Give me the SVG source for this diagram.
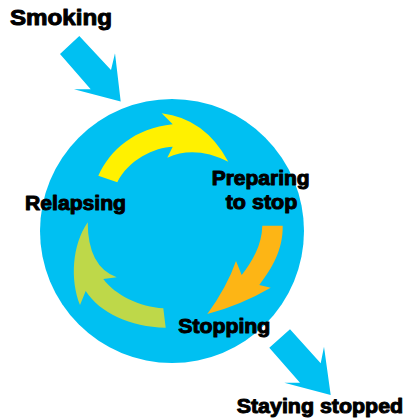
<svg xmlns="http://www.w3.org/2000/svg" width="405" height="419" viewBox="0 0 405 419">
<style>
.lbl{font-family:"Liberation Sans",Arial,sans-serif;font-weight:bold;fill:#000;stroke:#000;stroke-width:1;stroke-linejoin:round;font-size:20px}
.big{fill:#00C0F2}
</style>
<rect width="405" height="419" fill="#fff"/>
<g id="cycle">
<circle cx="172" cy="231" r="132" class="big"/>
</g>
<g id="connectors">
<path class="big" d="M60,54 L79.3,36 L111,70 L115,53.3 L120.7,101.5 L74,89.3 L90.7,89.3 Z"/>
<path class="big" d="M290,329.3 L269.3,347.7 L300,382.7 L284.3,382.7 L330.7,395 L324,346.7 L320.7,363.3 Z"/>
<path fill="#FFF100" d="M98.3,175.7 C110,150 135,128 172.7,124.3 L161.7,113.3 Q205,118.5 228.3,161.7 Q195,145 167.3,157.7 L172.7,146.7 C155,147 128,160 117.3,182.3 Z"/>
<path fill="#FDB515" d="M262.3,225.7 L282.7,225.7 C283,250 272,268 259.3,285 L270.7,287.7 Q241,305 207.3,314 Q227,287 236,261 L241.7,275 C252,262 262,245 262.3,225.7 Z"/>
<path fill="#BED849" d="M87.7,222.3 Q87.8,266.8 116.7,277.3 L103.3,279 C115,295 140,307 163.3,308.3 L165.7,327.7 C130,327 100,313 85.7,291 L80,305 C70,280 72,245 87.7,222.3 Z"/>
</g>
<g id="smoking"><text class="lbl" x="10" y="25" style="font-size:22px" textLength="102" lengthAdjust="spacingAndGlyphs">Smoking</text></g>
<g id="preparing"><text class="lbl" x="211.7" y="185" textLength="98" lengthAdjust="spacingAndGlyphs">Preparing</text><text class="lbl" x="225.7" y="208.5" textLength="71.6" lengthAdjust="spacingAndGlyphs">to stop</text></g>
<g id="stopping"><text class="lbl" x="178.3" y="332.7" textLength="92" lengthAdjust="spacingAndGlyphs">Stopping</text></g>
<g id="relapsing"><text class="lbl" x="25" y="210" textLength="101" lengthAdjust="spacingAndGlyphs">Relapsing</text></g>
<g id="staying"><text class="lbl" x="236.7" y="413.3" textLength="166.5" lengthAdjust="spacingAndGlyphs">Staying stopped</text></g>
</svg>
